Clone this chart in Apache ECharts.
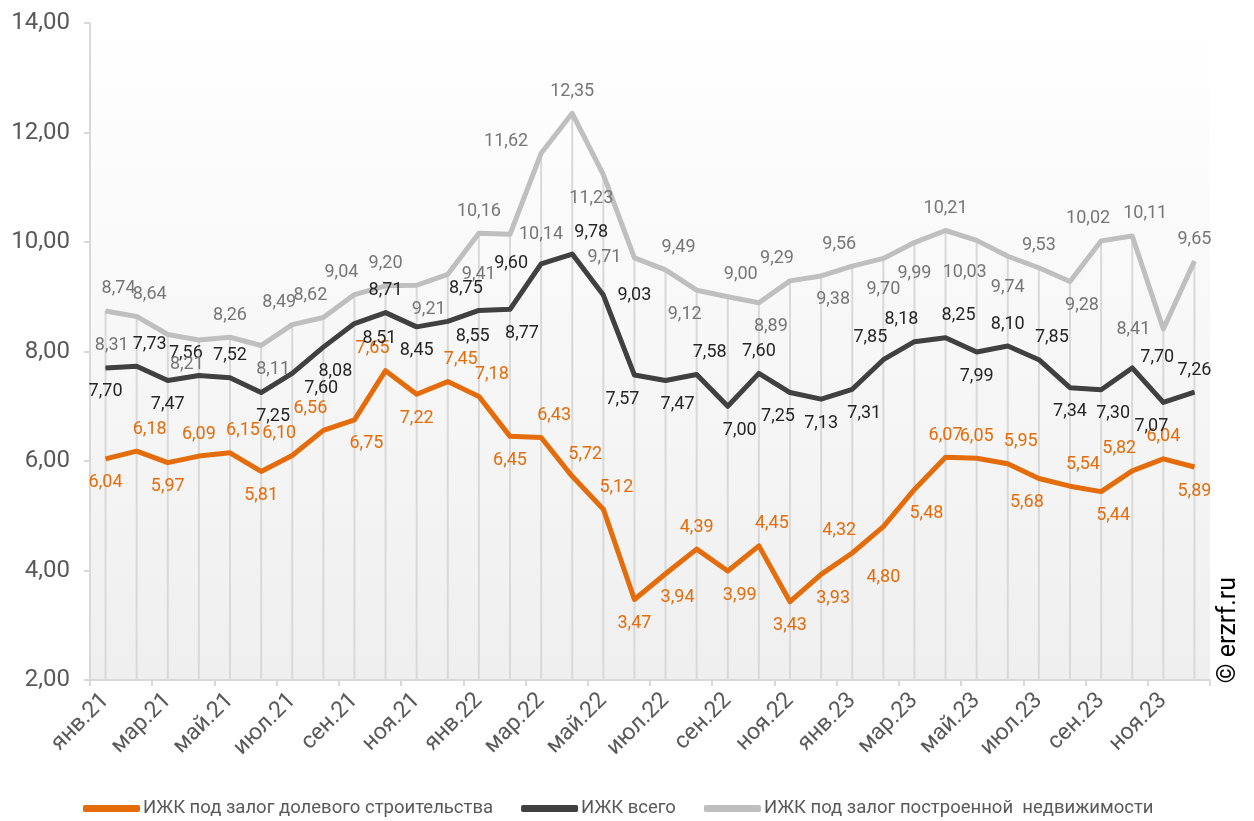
<!DOCTYPE html>
<html>
<head>
<meta charset="utf-8">
<script src="https://cdn.jsdelivr.net/npm/echarts@6/dist/echarts.min.js"></script>
<style>
  html, body { margin: 0; padding: 0; background: #ffffff; }
  #chart { width: 1254px; height: 821px; }
</style>
</head>
<body>
<div id="chart"></div>
<script>
// Месяцы: январь 2021 — декабрь 2023
const monthNames = ['янв', 'фев', 'мар', 'апр', 'май', 'июн', 'июл', 'авг', 'сен', 'окт', 'ноя', 'дек'];
const years = ['21', '22', '23'];
const categories = [];
years.forEach(y => monthNames.forEach(m => categories.push(m + '.' + y)));

const seriesNames = [
  'ИЖК под залог долевого строительства',
  'ИЖК всего',
  'ИЖК под залог построенной  недвижимости'
];

// ИЖК под залог ДДУ, %
const rateDdu = [
  6.04, 6.18, 5.97, 6.09, 6.15, 5.81, 6.10, 6.56, 6.75, 7.65, 7.22, 7.45,
  7.18, 6.45, 6.43, 5.72, 5.12, 3.47, 3.94, 4.39, 3.99, 4.45, 3.43, 3.93,
  4.32, 4.80, 5.48, 6.07, 6.05, 5.95, 5.68, 5.54, 5.44, 5.82, 6.04, 5.89
];
// ИЖК всего, %
const rateTotal = [
  7.70, 7.73, 7.47, 7.56, 7.52, 7.25, 7.60, 8.08, 8.51, 8.71, 8.45, 8.55,
  8.75, 8.77, 9.60, 9.78, 9.03, 7.57, 7.47, 7.58, 7.00, 7.60, 7.25, 7.13,
  7.31, 7.85, 8.18, 8.25, 7.99, 8.10, 7.85, 7.34, 7.30, 7.70, 7.07, 7.26
];
// ИЖК под залог построенного жилья, %
const rateBuilt = [
  8.74, 8.64, 8.31, 8.21, 8.26, 8.11, 8.49, 8.62, 9.04, 9.20, 9.21, 9.41,
  10.16, 10.14, 11.62, 12.35, 11.23, 9.71, 9.49, 9.12, 9.00, 8.89, 9.29, 9.38,
  9.56, 9.70, 9.99, 10.21, 10.03, 9.74, 9.53, 9.28, 10.02, 10.11, 8.41, 9.65
];

// Размещение подписей значений (коды из sideTable)
const sideDdu = [
  'B','TR','B','T','TR','B','TL','TL','BR','TL','B','TR',
  'TR','B','TR','TR','TR','B','BR','T','BR','TR','B','BR',
  'TL','BX','BR','T','T','TR','BL','TR','BR','TL','T','B'
];
const sideTotal = [
  'B','TR','B','TL','T','BR','RB','BR','BRR','T','B','BRR',
  'TL','BR','L','TRR','R','BL','BR','TR','BR','T','BL','B',
  'BR','TL','TL','TR','B','T','TR','B','BR','RT','BL','T'
];
const sideBuilt = [
  'TR','TR','LF','BL','T','BR','TL','TL','TL','T','BR','R',
  'T','R','LT','T','BL','L','TR','BL','TR','BR','TL','BR',
  'TL','BF','BF','T','BLF','BF','T','BR','TL','TR','L','T'
];

const fmt = v => v.toFixed(2).replace('.', ',');

// Сдвиг центра подписи относительно точки, px
const sideTable = {
  T:   [0, -22],
  B:   [0, 24],
  L:   [-30, 0],
  R:   [31, 0],
  TR:  [13, -22],
  TRR: [19, -22],
  TL:  [-13, -22],
  BR:  [12, 24],
  BRR: [25, 15],
  BL:  [-12, 24],
  BF:  [0, 31],
  BLF: [-12, 32],
  BX:  [0, 51],
  LF:  [-56, 11],
  LT:  [-35, -12],
  RB:  [29, 15],
  RT:  [25, -10]
};

function labelledData(values, sides) {
  return values.map((v, i) => {
    const d = sideTable[sides[i]] || sideTable.T;
    return {
      value: v,
      label: { show: true, position: 'inside', align: 'center', verticalAlign: 'middle', offset: d }
    };
  });
}

const colors = ['#E46C0A', '#404040', '#BFBFBF'];
const labelColors = ['#E46C0A', '#262626', '#767676'];

// Вертикальные линии от оси до верхней точки месяца
const dropTop = categories.map((_, i) => Math.max(rateDdu[i], rateTotal[i], rateBuilt[i]));

// Линия ряда
function lineSeries(idx, values) {
  return {
    name: seriesNames[idx],
    type: 'line',
    data: values,
    symbol: 'none',
    z: 3 + idx,
    lineStyle: { color: colors[idx], width: 5, join: 'round' },
    itemStyle: { color: colors[idx] },
    emphasis: { disabled: true },
    animation: false
  };
}

// Подписи ряда — отдельным слоем поверх всех линий
function labelSeries(idx, values, sides) {
  return {
    name: seriesNames[idx],
    type: 'line',
    data: labelledData(values, sides),
    symbol: 'circle',
    symbolSize: 1,
    showSymbol: true,
    z: 10,
    silent: true,
    lineStyle: { width: 0, opacity: 0 },
    itemStyle: { color: colors[idx] },
    label: {
      show: true,
      color: labelColors[idx],
      fontFamily: 'Roboto',
      fontSize: 18,
      formatter: p => fmt(p.value)
    },
    emphasis: { disabled: true },
    animation: false
  };
}

const chart = echarts.init(document.getElementById('chart'), null, { renderer: 'canvas' });

chart.setOption({
  animation: false,
  textStyle: { fontFamily: 'Roboto' },
  grid: {
    left: 90, right: 44, top: 23, bottom: 141,
    show: true,
    borderWidth: 0,
    backgroundColor: new echarts.graphic.LinearGradient(0, 0, 0, 1, [
      { offset: 0, color: '#ffffff' },
      { offset: 1, color: '#efefef' }
    ])
  },
  legend: {
    data: seriesNames,
    bottom: 3,
    left: 83,
    padding: 0,
    icon: 'roundRect',
    itemWidth: 57,
    itemHeight: 7,
    itemGap: 28,
    textStyle: { color: '#595959', fontSize: 18.5, fontFamily: 'Roboto', padding: [0, 0, 0, -2] }
  },
  xAxis: {
    type: 'category',
    data: categories,
    boundaryGap: true,
    axisLine: { lineStyle: { color: '#d9d9d9', width: 2 } },
    axisTick: { show: true, interval: 1, length: 6, lineStyle: { color: '#d9d9d9', width: 2 } },
    axisLabel: {
      interval: 1,
      rotate: 45,
      margin: 17,
      color: '#595959',
      fontSize: 23,
      fontFamily: 'Roboto'
    },
    splitLine: { show: false }
  },
  yAxis: {
    type: 'value',
    min: 2,
    max: 14,
    interval: 2,
    axisLine: { show: true, lineStyle: { color: '#d9d9d9', width: 2 } },
    axisTick: { show: true, length: 6, lineStyle: { color: '#d9d9d9', width: 2 } },
    axisLabel: {
      color: '#595959',
      fontSize: 24,
      fontFamily: 'Roboto',
      margin: 20,
      formatter: v => fmt(v)
    },
    splitLine: { show: false }
  },
  series: [
    {
      name: 'drop',
      type: 'bar',
      data: dropTop,
      barWidth: 2,
      silent: true,
      z: 1,
      itemStyle: { color: '#d9d9d9' },
      emphasis: { disabled: true }
    },
    lineSeries(0, rateDdu),
    lineSeries(1, rateTotal),
    lineSeries(2, rateBuilt),
    labelSeries(0, rateDdu, sideDdu),
    labelSeries(1, rateTotal, sideTotal),
    labelSeries(2, rateBuilt, sideBuilt)
  ],
  graphic: [
    {
      type: 'text',
      left: 1216,
      top: 577,
      rotation: Math.PI / 2,
      style: {
        text: '© erzrf.ru',
        fill: '#000000',
        font: '25px Roboto'
      }
    }
  ]
});
</script>
</body>
</html>
